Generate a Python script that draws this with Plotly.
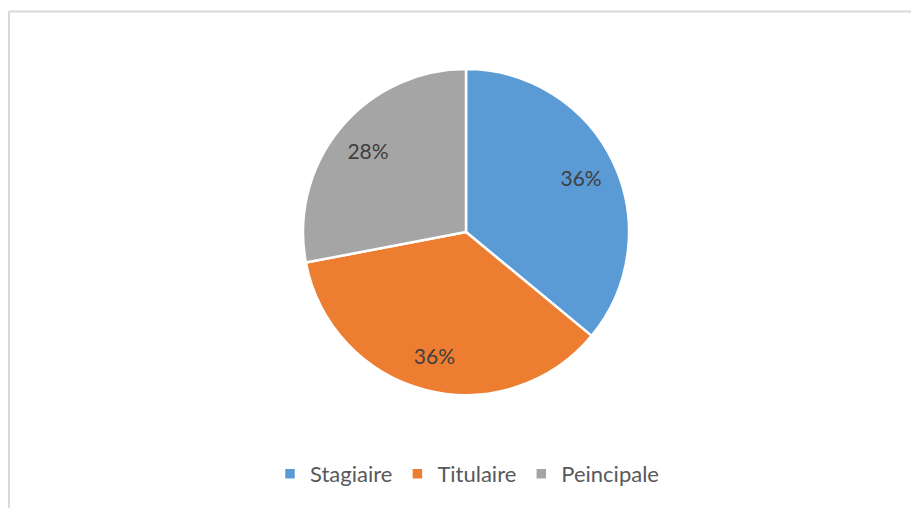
import plotly.graph_objects as go

categories = ["Stagiaire", "Titulaire", "Peincipale"]
values = [36, 36, 28]
colors = ["#5B9BD5", "#ED7D31", "#A5A5A5"]

W, H = 911, 508
t, b = 69, H - 395
ph = H - t - b
cx, R = 466, 163
dom_x = [(cx - R) / W, (cx + R) / W]

def px(x):
    return x / W

def py(y):
    return 1 - (y - t) / ph

fig = go.Figure()
fig.add_trace(go.Pie(
    labels=categories,
    values=values,
    sort=False,
    direction="clockwise",
    rotation=0,
    domain=dict(x=dom_x, y=[0, 1]),
    marker=dict(colors=colors, line=dict(color="white", width=2.5)),
    textinfo="none",
    hoverinfo="label+percent",
))
# label layer: same data, transparent ring so labels sit ~78% out
fig.add_trace(go.Pie(
    labels=categories,
    values=values,
    sort=False,
    direction="clockwise",
    rotation=0,
    hole=0.56,
    domain=dict(x=dom_x, y=[0, 1]),
    marker=dict(colors=["rgba(0,0,0,0)"] * 3, line=dict(width=0)),
    textinfo="percent",
    texttemplate="%{percent:.0%}",
    textposition="inside",
    insidetextorientation="horizontal",
    textfont=dict(size=21, color="#404040", family="Lato"),
    hoverinfo="skip",
    showlegend=False,
))

fig.update_layout(
    width=W, height=H,
    margin=dict(l=0, r=0, t=t, b=b),
    paper_bgcolor="white",
    plot_bgcolor="white",
    font=dict(family="Lato", color="#595959"),
    showlegend=True,
    legend=dict(
        orientation="h",
        x=px(467), xanchor="center",
        y=py(474), yanchor="middle",
        font=dict(size=22, color="#595959", family="Lato"),
        itemwidth=30,
        traceorder="normal",
    ),
    shapes=[
        dict(type="line", xref="paper", yref="paper",
             x0=px(9), x1=px(9), y0=py(11.5), y1=py(530),
             line=dict(color="#D9D9D9", width=2)),
        dict(type="line", xref="paper", yref="paper",
             x0=px(9), x1=px(930), y0=py(11.5), y1=py(11.5),
             line=dict(color="#D9D9D9", width=2)),
    ],
)

fig.write_html(
    "out.html",
    config={"displayModeBar": False},
    post_script="document.body.style.margin='0';document.body.style.overflow='hidden';",
)
